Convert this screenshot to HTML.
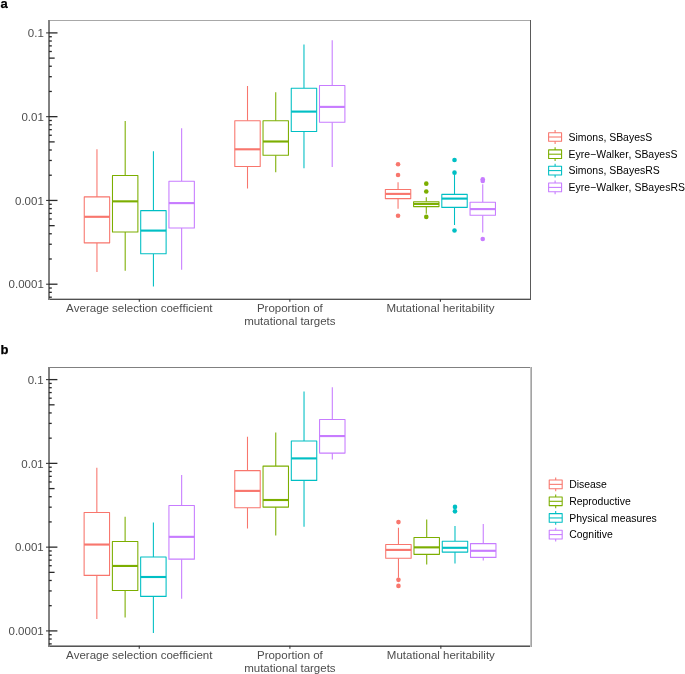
<!DOCTYPE html>
<html lang="en">
<head>
<meta charset="utf-8">
<title>Figure</title>
<style>
html,body{margin:0;padding:0;background:#fff;}
body{width:685px;height:674px;overflow:hidden;}
svg{display:block;font-family:"Liberation Sans", Arial, Helvetica, sans-serif;font-kerning:none;}
</style>
</head>
<body>
<svg width="685" height="674" viewBox="0 0 685 674">
<rect width="685" height="674" fill="#fff"/>
<g stroke="#F8766D" fill="none" stroke-width="1.07">
<path d="M96.96 149.2V196.9M96.96 242.85V272"/>
<rect x="84.25" y="196.9" width="25.41" height="45.95" fill="#fff" stroke-linejoin="round"/>
<path d="M84.25 216.8H109.66" stroke-width="2.13"/>
</g>
<g stroke="#7CAE00" fill="none" stroke-width="1.07">
<path d="M125.19 121V175.5M125.19 232V270.8"/>
<rect x="112.48" y="175.5" width="25.41" height="56.5" fill="#fff" stroke-linejoin="round"/>
<path d="M112.48 201.35H137.89" stroke-width="2.13"/>
</g>
<g stroke="#00BFC4" fill="none" stroke-width="1.07">
<path d="M153.42 151.3V210.6M153.42 253.7V286.5"/>
<rect x="140.71" y="210.6" width="25.41" height="43.1" fill="#fff" stroke-linejoin="round"/>
<path d="M140.71 230.6H166.12" stroke-width="2.13"/>
</g>
<g stroke="#C77CFF" fill="none" stroke-width="1.07">
<path d="M181.65 128.2V181.3M181.65 228.05V269.7"/>
<rect x="168.94" y="181.3" width="25.41" height="46.75" fill="#fff" stroke-linejoin="round"/>
<path d="M168.94 203.1H194.35" stroke-width="2.13"/>
</g>
<g stroke="#F8766D" fill="none" stroke-width="1.07">
<path d="M247.51 86.1V120.8M247.51 166.55V188.45"/>
<rect x="234.8" y="120.8" width="25.41" height="45.75" fill="#fff" stroke-linejoin="round"/>
<path d="M234.8 149.3H260.21" stroke-width="2.13"/>
</g>
<g stroke="#7CAE00" fill="none" stroke-width="1.07">
<path d="M275.74 92.3V120.8M275.74 155.2V172.25"/>
<rect x="263.03" y="120.8" width="25.41" height="34.4" fill="#fff" stroke-linejoin="round"/>
<path d="M263.03 141.5H288.44" stroke-width="2.13"/>
</g>
<g stroke="#00BFC4" fill="none" stroke-width="1.07">
<path d="M303.97 44.6V88.2M303.97 131.5V168.3"/>
<rect x="291.26" y="88.2" width="25.41" height="43.3" fill="#fff" stroke-linejoin="round"/>
<path d="M291.26 111.6H316.67" stroke-width="2.13"/>
</g>
<g stroke="#C77CFF" fill="none" stroke-width="1.07">
<path d="M332.2 40.3V85.5M332.2 122.2V166.9"/>
<rect x="319.49" y="85.5" width="25.41" height="36.7" fill="#fff" stroke-linejoin="round"/>
<path d="M319.49 106.9H344.9" stroke-width="2.13"/>
</g>
<g stroke="#F8766D" fill="none" stroke-width="1.07">
<path d="M398.05 182.3V189.5M398.05 198.6V208.7"/>
<rect x="385.35" y="189.5" width="25.41" height="9.1" fill="#fff" stroke-linejoin="round"/>
<path d="M385.35 193.9H410.76" stroke-width="2.13"/>
</g>
<circle cx="398.05" cy="164.26" r="2.3" fill="#F8766D"/>
<circle cx="398.05" cy="175.06" r="2.3" fill="#F8766D"/>
<circle cx="398.05" cy="215.75" r="2.3" fill="#F8766D"/>
<g stroke="#7CAE00" fill="none" stroke-width="1.07">
<path d="M426.28 197.2V201.7M426.28 206.6V213.8"/>
<rect x="413.58" y="201.7" width="25.41" height="4.9" fill="#fff" stroke-linejoin="round"/>
<path d="M413.58 203.9H438.99" stroke-width="2.13"/>
</g>
<circle cx="426.28" cy="183.64" r="2.3" fill="#7CAE00"/>
<circle cx="426.28" cy="191.45" r="2.3" fill="#7CAE00"/>
<circle cx="426.28" cy="216.9" r="2.3" fill="#7CAE00"/>
<g stroke="#00BFC4" fill="none" stroke-width="1.07">
<path d="M454.51 174.5V194.4M454.51 207.4V225.1"/>
<rect x="441.81" y="194.4" width="25.41" height="13" fill="#fff" stroke-linejoin="round"/>
<path d="M441.81 198.6H467.22" stroke-width="2.13"/>
</g>
<circle cx="454.51" cy="160.07" r="2.3" fill="#00BFC4"/>
<circle cx="454.51" cy="172.64" r="2.3" fill="#00BFC4"/>
<circle cx="454.51" cy="230.5" r="2.3" fill="#00BFC4"/>
<g stroke="#C77CFF" fill="none" stroke-width="1.07">
<path d="M482.75 184.3V202.2M482.75 215.3V232.6"/>
<rect x="470.04" y="202.2" width="25.41" height="13.1" fill="#fff" stroke-linejoin="round"/>
<path d="M470.04 209.1H495.45" stroke-width="2.13"/>
</g>
<circle cx="482.75" cy="179.25" r="2.3" fill="#C77CFF"/>
<circle cx="482.75" cy="180.95" r="2.3" fill="#C77CFF"/>
<circle cx="482.75" cy="239" r="2.3" fill="#C77CFF"/>
<g shape-rendering="crispEdges">
<rect x="48" y="20" width="483" height="1" fill="#a8a8a8"/>
<rect x="48" y="298" width="483" height="1" fill="#c0c0c0"/>
<rect x="48" y="299" width="483" height="1" fill="#505050"/>
<rect x="530" y="20" width="1" height="280" fill="#5a5a5a"/>
<rect x="48" y="20" width="1" height="280" fill="#828282"/>
<rect x="49" y="20" width="1" height="280" fill="#808080"/>
</g>
<g stroke="#2a2a2a" stroke-width="1.3" fill="none">
<path d="M49 297.19h2.83"/>
<path d="M49 292.33h2.83"/>
<path d="M49 288.04h2.83"/>
<path d="M49 284.21h8.5"/>
<path d="M49 258.99h2.83"/>
<path d="M49 244.24h2.83"/>
<path d="M49 233.78h2.83"/>
<path d="M49 225.66h5.67"/>
<path d="M49 219.02h2.83"/>
<path d="M49 213.42h2.83"/>
<path d="M49 208.56h2.83"/>
<path d="M49 204.27h2.83"/>
<path d="M49 200.44h8.5"/>
<path d="M49 175.22h2.83"/>
<path d="M49 160.47h2.83"/>
<path d="M49 150.01h2.83"/>
<path d="M49 141.89h5.67"/>
<path d="M49 135.25h2.83"/>
<path d="M49 129.65h2.83"/>
<path d="M49 124.79h2.83"/>
<path d="M49 120.5h2.83"/>
<path d="M49 116.67h8.5"/>
<path d="M49 91.45h2.83"/>
<path d="M49 76.7h2.83"/>
<path d="M49 66.24h2.83"/>
<path d="M49 58.12h5.67"/>
<path d="M49 51.48h2.83"/>
<path d="M49 45.88h2.83"/>
<path d="M49 41.02h2.83"/>
<path d="M49 36.73h2.83"/>
<path d="M49 32.9h8.5"/>
</g>
<g stroke="#333333" stroke-width="1.07" fill="none">
<path d="M46.1 284.21H49"/>
<path d="M46.1 200.44H49"/>
<path d="M46.1 116.67H49"/>
<path d="M46.1 32.9H49"/>
<path d="M139.3 298.9v2.9"/>
<path d="M289.85 298.9v2.9"/>
<path d="M440.4 298.9v2.9"/>
</g>
<g font-size="11.5" fill="#4D4D4D">
<text x="43.8" y="288.46" text-anchor="end">0.0001</text>
<text x="43.8" y="204.69" text-anchor="end">0.001</text>
<text x="43.8" y="120.92" text-anchor="end">0.01</text>
<text x="43.8" y="37.15" text-anchor="end">0.1</text>
<text x="139.3" y="312.2" text-anchor="middle">Average selection coefficient</text>
<text x="289.85" y="312.2" text-anchor="middle">Proportion of</text>
<text x="289.85" y="324.8" text-anchor="middle">mutational targets</text>
<text x="440.4" y="312.2" text-anchor="middle">Mutational heritability</text>
</g>
<text x="0.6" y="7.7" font-size="13" font-weight="bold" fill="#000" stroke="#000" stroke-width="0.25">a</text>
<g stroke="#F8766D" fill="none" stroke-width="1.07">
<path d="M555.1 130.09V132.68M555.1 141.32V143.91"/>
<rect x="548.62" y="132.68" width="12.96" height="8.64" stroke-linejoin="round"/>
<path d="M548.62 137H561.58"/>
</g>
<text x="568.6" y="140.8" font-size="10.45" fill="#000">Simons, SBayesS</text>
<g stroke="#7CAE00" fill="none" stroke-width="1.07">
<path d="M555.1 147.29V149.88M555.1 158.52V161.11"/>
<rect x="548.62" y="149.88" width="12.96" height="8.64" stroke-linejoin="round"/>
<path d="M548.62 154.2H561.58"/>
</g>
<text x="568.6" y="158" font-size="10.45" fill="#000">Eyre−Walker, SBayesS</text>
<g stroke="#00BFC4" fill="none" stroke-width="1.07">
<path d="M555.1 163.69V166.28M555.1 174.92V177.51"/>
<rect x="548.62" y="166.28" width="12.96" height="8.64" stroke-linejoin="round"/>
<path d="M548.62 170.6H561.58"/>
</g>
<text x="568.6" y="174.4" font-size="10.45" fill="#000">Simons, SBayesRS</text>
<g stroke="#C77CFF" fill="none" stroke-width="1.07">
<path d="M555.1 180.49V183.08M555.1 191.72V194.31"/>
<rect x="548.62" y="183.08" width="12.96" height="8.64" stroke-linejoin="round"/>
<path d="M548.62 187.4H561.58"/>
</g>
<text x="568.6" y="191.2" font-size="10.45" fill="#000">Eyre−Walker, SBayesRS</text>
<g stroke="#F8766D" fill="none" stroke-width="1.07">
<path d="M96.84 467.8V512.5M96.84 575.4V618.9"/>
<rect x="84.12" y="512.5" width="25.44" height="62.9" fill="#fff" stroke-linejoin="round"/>
<path d="M84.12 544.55H109.57" stroke-width="2.13"/>
</g>
<g stroke="#7CAE00" fill="none" stroke-width="1.07">
<path d="M125.11 516.8V541.55M125.11 590.5V617.6"/>
<rect x="112.39" y="541.55" width="25.44" height="48.95" fill="#fff" stroke-linejoin="round"/>
<path d="M112.39 565.95H137.84" stroke-width="2.13"/>
</g>
<g stroke="#00BFC4" fill="none" stroke-width="1.07">
<path d="M153.38 522.6V557.05M153.38 596.4V633.1"/>
<rect x="140.66" y="557.05" width="25.44" height="39.35" fill="#fff" stroke-linejoin="round"/>
<path d="M140.66 577H166.11" stroke-width="2.13"/>
</g>
<g stroke="#C77CFF" fill="none" stroke-width="1.07">
<path d="M181.66 475.1V505.5M181.66 559.15V598.7"/>
<rect x="168.93" y="505.5" width="25.44" height="53.65" fill="#fff" stroke-linejoin="round"/>
<path d="M168.93 536.85H194.38" stroke-width="2.13"/>
</g>
<g stroke="#F8766D" fill="none" stroke-width="1.07">
<path d="M247.49 436.8V470.6M247.49 507.8V528.45"/>
<rect x="234.77" y="470.6" width="25.44" height="37.2" fill="#fff" stroke-linejoin="round"/>
<path d="M234.77 490.9H260.22" stroke-width="2.13"/>
</g>
<g stroke="#7CAE00" fill="none" stroke-width="1.07">
<path d="M275.76 432.4V466.1M275.76 507.1V535.6"/>
<rect x="263.04" y="466.1" width="25.44" height="41" fill="#fff" stroke-linejoin="round"/>
<path d="M263.04 500H288.49" stroke-width="2.13"/>
</g>
<g stroke="#00BFC4" fill="none" stroke-width="1.07">
<path d="M304.03 391.4V440.95M304.03 480.4V526.85"/>
<rect x="291.31" y="440.95" width="25.44" height="39.45" fill="#fff" stroke-linejoin="round"/>
<path d="M291.31 458.4H316.76" stroke-width="2.13"/>
</g>
<g stroke="#C77CFF" fill="none" stroke-width="1.07">
<path d="M332.3 387.3V419.5M332.3 453.1V459.55"/>
<rect x="319.58" y="419.5" width="25.44" height="33.6" fill="#fff" stroke-linejoin="round"/>
<path d="M319.58 436.05H345.03" stroke-width="2.13"/>
</g>
<g stroke="#F8766D" fill="none" stroke-width="1.07">
<path d="M398.45 527.8V544.45M398.45 558.2V577.7"/>
<rect x="385.72" y="544.45" width="25.44" height="13.75" fill="#fff" stroke-linejoin="round"/>
<path d="M385.72 549.9H411.17" stroke-width="2.13"/>
</g>
<circle cx="398.45" cy="522.1" r="2.3" fill="#F8766D"/>
<circle cx="398.45" cy="579.85" r="2.3" fill="#F8766D"/>
<circle cx="398.45" cy="585.9" r="2.3" fill="#F8766D"/>
<g stroke="#7CAE00" fill="none" stroke-width="1.07">
<path d="M426.72 519.6V537.45M426.72 554.35V564.5"/>
<rect x="413.99" y="537.45" width="25.44" height="16.9" fill="#fff" stroke-linejoin="round"/>
<path d="M413.99 547.35H439.44" stroke-width="2.13"/>
</g>
<g stroke="#00BFC4" fill="none" stroke-width="1.07">
<path d="M454.99 525.96V541.2M454.99 552.1V563.55"/>
<rect x="442.26" y="541.2" width="25.44" height="10.9" fill="#fff" stroke-linejoin="round"/>
<path d="M442.26 547.8H467.71" stroke-width="2.13"/>
</g>
<circle cx="454.99" cy="506.9" r="2.3" fill="#00BFC4"/>
<circle cx="454.99" cy="511.35" r="2.3" fill="#00BFC4"/>
<g stroke="#C77CFF" fill="none" stroke-width="1.07">
<path d="M483.25 523.9V543.6M483.25 557.4V560.5"/>
<rect x="470.53" y="543.6" width="25.44" height="13.8" fill="#fff" stroke-linejoin="round"/>
<path d="M470.53 550.8H495.98" stroke-width="2.13"/>
</g>
<g shape-rendering="crispEdges">
<rect x="48" y="367" width="484" height="1" fill="#808080"/>
<rect x="48" y="645" width="484" height="1" fill="#a0a0a0"/>
<rect x="48" y="646" width="484" height="1" fill="#555555"/>
<rect x="530" y="367" width="1" height="280" fill="#c2c2c2"/>
<rect x="531" y="367" width="1" height="280" fill="#a4a4a4"/>
<rect x="48" y="367" width="1" height="280" fill="#828282"/>
<rect x="49" y="367" width="1" height="280" fill="#808080"/>
</g>
<g stroke="#2a2a2a" stroke-width="1.3" fill="none">
<path d="M48.9 643.89h2.83"/>
<path d="M48.9 639.03h2.83"/>
<path d="M48.9 634.74h2.83"/>
<path d="M48.9 630.91h8.5"/>
<path d="M48.9 605.69h2.83"/>
<path d="M48.9 590.94h2.83"/>
<path d="M48.9 580.48h2.83"/>
<path d="M48.9 572.36h5.67"/>
<path d="M48.9 565.72h2.83"/>
<path d="M48.9 560.12h2.83"/>
<path d="M48.9 555.26h2.83"/>
<path d="M48.9 550.97h2.83"/>
<path d="M48.9 547.14h8.5"/>
<path d="M48.9 521.92h2.83"/>
<path d="M48.9 507.17h2.83"/>
<path d="M48.9 496.71h2.83"/>
<path d="M48.9 488.59h5.67"/>
<path d="M48.9 481.95h2.83"/>
<path d="M48.9 476.35h2.83"/>
<path d="M48.9 471.49h2.83"/>
<path d="M48.9 467.2h2.83"/>
<path d="M48.9 463.37h8.5"/>
<path d="M48.9 438.15h2.83"/>
<path d="M48.9 423.4h2.83"/>
<path d="M48.9 412.94h2.83"/>
<path d="M48.9 404.82h5.67"/>
<path d="M48.9 398.18h2.83"/>
<path d="M48.9 392.58h2.83"/>
<path d="M48.9 387.72h2.83"/>
<path d="M48.9 383.43h2.83"/>
<path d="M48.9 379.6h8.5"/>
</g>
<g stroke="#333333" stroke-width="1.07" fill="none">
<path d="M46 630.91H48.9"/>
<path d="M46 547.14H48.9"/>
<path d="M46 463.37H48.9"/>
<path d="M46 379.6H48.9"/>
<path d="M139.25 645.8v2.9"/>
<path d="M289.9 645.8v2.9"/>
<path d="M440.85 645.8v2.9"/>
</g>
<g font-size="11.5" fill="#4D4D4D">
<text x="43.7" y="635.16" text-anchor="end">0.0001</text>
<text x="43.7" y="551.39" text-anchor="end">0.001</text>
<text x="43.7" y="467.62" text-anchor="end">0.01</text>
<text x="43.7" y="383.85" text-anchor="end">0.1</text>
<text x="139.25" y="659.1" text-anchor="middle">Average selection coefficient</text>
<text x="289.9" y="659.1" text-anchor="middle">Proportion of</text>
<text x="289.9" y="671.7" text-anchor="middle">mutational targets</text>
<text x="440.85" y="659.1" text-anchor="middle">Mutational heritability</text>
</g>
<text x="0.6" y="353.7" font-size="13" font-weight="bold" fill="#000" stroke="#000" stroke-width="0.25">b</text>
<g stroke="#F8766D" fill="none" stroke-width="1.07">
<path d="M555.7 477.44V480.03M555.7 488.67V491.26"/>
<rect x="549.22" y="480.03" width="12.96" height="8.64" stroke-linejoin="round"/>
<path d="M549.22 484.35H562.18"/>
</g>
<text x="569.2" y="488.15" font-size="10.45" fill="#000">Disease</text>
<g stroke="#7CAE00" fill="none" stroke-width="1.07">
<path d="M555.7 494.39V496.98M555.7 505.62V508.21"/>
<rect x="549.22" y="496.98" width="12.96" height="8.64" stroke-linejoin="round"/>
<path d="M549.22 501.3H562.18"/>
</g>
<text x="569.2" y="505.1" font-size="10.45" fill="#000">Reproductive</text>
<g stroke="#00BFC4" fill="none" stroke-width="1.07">
<path d="M555.7 511.04V513.63M555.7 522.27V524.86"/>
<rect x="549.22" y="513.63" width="12.96" height="8.64" stroke-linejoin="round"/>
<path d="M549.22 517.95H562.18"/>
</g>
<text x="569.2" y="521.75" font-size="10.45" fill="#000">Physical measures</text>
<g stroke="#C77CFF" fill="none" stroke-width="1.07">
<path d="M555.7 527.69V530.28M555.7 538.92V541.51"/>
<rect x="549.22" y="530.28" width="12.96" height="8.64" stroke-linejoin="round"/>
<path d="M549.22 534.6H562.18"/>
</g>
<text x="569.2" y="538.4" font-size="10.45" fill="#000">Cognitive</text>
</svg>
</body>
</html>
